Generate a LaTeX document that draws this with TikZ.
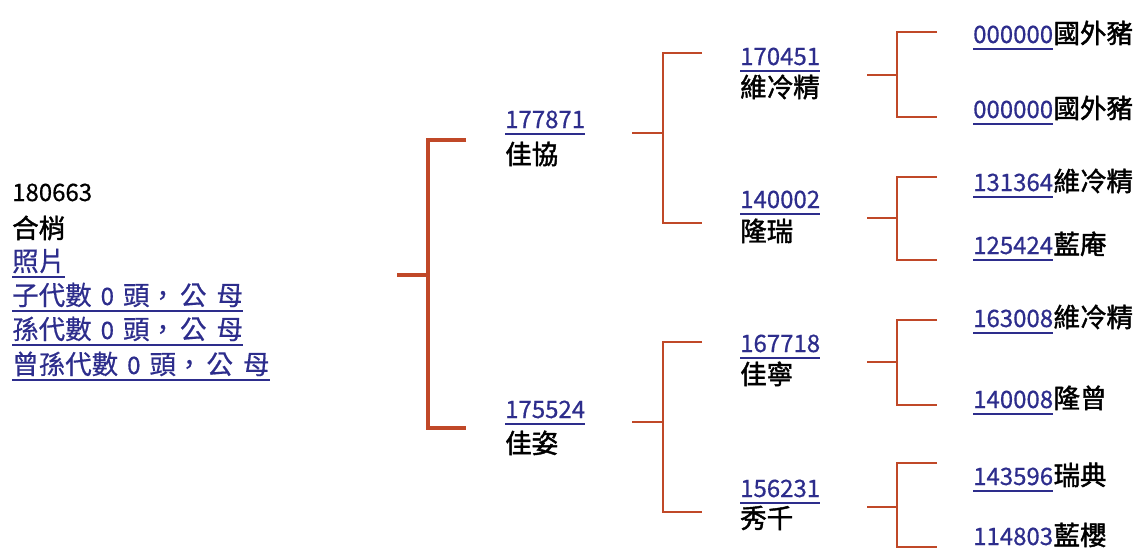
\documentclass[tikz,border=0pt]{standalone}
\usepackage{fontspec}
\setmainfont{Noto Sans CJK TC}
\newfontfamily\heavycjk[FakeBold=1.6]{Noto Sans CJK TC}
\newfontfamily\midcjk[FakeBold=0.6]{Noto Sans CJK TC}
\usetikzlibrary{calc}
\definecolor{linkblue}{RGB}{45,45,140}
\definecolor{brk}{RGB}{192,72,40}
\newcommand\dtxt[1]{{\fontsize{24}{26}\selectfont #1}}
\newcommand\ulnode[1]{\draw[ulline] ([yshift=-6pt]#1.base west) -- ([yshift=-6pt]#1.base east);}
% #1 name, #2 stub x0, #3 vertical x, #4 arm x, #5 stub y, #6 top y, #7 bottom y, #8 style
\newcommand\treebr[8]{%
  \coordinate (#1s) at (#2,#5); \coordinate (#1j) at (#3,#5);
  \coordinate (#1t) at (#3,#6); \coordinate (#1te) at (#4,#6);
  \coordinate (#1b) at (#3,#7); \coordinate (#1be) at (#4,#7);
  \draw[#8] (#1s) -- (#1j);
  \draw[#8] (#1te) -- (#1t) -- (#1b) -- (#1be);}
\begin{document}
\begin{tikzpicture}[x=1pt,y=-1pt,
  txt/.style={inner sep=0pt, anchor=base west, text=black, font=\heavycjk\fontsize{26.5}{28}\selectfont},
  link/.style={txt, text=linkblue, font=\midcjk\fontsize{26.5}{28}\selectfont},
  num/.style={txt, text=linkblue, font=\midcjk\fontsize{24}{26}\selectfont},
  ulline/.style={draw=linkblue, line width=1.8pt},
  brone/.style={draw=brk, line width=3.6pt, line join=miter},
  brtwo/.style={draw=brk, line width=2.3pt, line join=miter}]
\useasboundingbox (0,0) rectangle (1144,549);

% root
\node[num, text=black] (r1) at (12,201) {180663};
\node[txt] (r2) at (12,238) {合梢};
\node[link] (r3) at (12,271) {照片}; \ulnode{r3}
\node[link] (r4) at (12,305) {子代數\hspace{9pt}\dtxt{0}\hspace{9pt}頭，\hspace{4pt}公\hspace{10pt}母}; \ulnode{r4}
\node[link] (r5) at (12,339) {孫代數\hspace{9pt}\dtxt{0}\hspace{9pt}頭，\hspace{4pt}公\hspace{10pt}母}; \ulnode{r5}
\node[link] (r6) at (12,374) {曾孫代數\hspace{9pt}\dtxt{0}\hspace{9pt}頭，\hspace{4pt}公\hspace{10pt}母}; \ulnode{r6}

% level 1 bracket
\treebr{A}{397}{428}{466}{275}{140}{428}{brone}

% level 2
\node[num] (p1) at (505,128) {177871}; \ulnode{p1}
\node[txt] (p1n) at (505,164) {佳協};
\node[num] (p2) at (505,418) {175524}; \ulnode{p2}
\node[txt] (p2n) at (505,453) {佳姿};

\treebr{B}{632}{663}{702}{133}{53}{223}{brtwo}
\treebr{C}{632}{663}{702}{422}{342}{512}{brtwo}

% level 3
\node[num] (q1) at (740,65) {170451}; \ulnode{q1}
\node[txt] (q1n) at (740,97) {維冷精};
\node[num] (q2) at (740,208) {140002}; \ulnode{q2}
\node[txt] (q2n) at (740,241) {隆瑞};
\node[num] (q3) at (740,352) {167718}; \ulnode{q3}
\node[txt] (q3n) at (740,384) {佳寧};
\node[num] (q4) at (740,497) {156231}; \ulnode{q4}
\node[txt] (q4n) at (740,528) {秀千};

\treebr{D}{867}{897}{937}{75}{32}{117}{brtwo}
\treebr{E}{867}{897}{937}{218}{177}{260}{brtwo}
\treebr{F}{867}{897}{937}{362}{320}{405}{brtwo}
\treebr{G}{867}{897}{937}{507}{463}{547}{brtwo}

% level 4
\node[num] (s1) at (973,43) {000000}; \ulnode{s1}
\node[txt] (s1n) at (s1.base east) {國外豬};
\node[num] (s2) at (973,118) {000000}; \ulnode{s2}
\node[txt] (s2n) at (s2.base east) {國外豬};
\node[num] (s3) at (973,191) {131364}; \ulnode{s3}
\node[txt] (s3n) at (s3.base east) {維冷精};
\node[num] (s4) at (973,254) {125424}; \ulnode{s4}
\node[txt] (s4n) at (s4.base east) {藍庵};
\node[num] (s5) at (973,327) {163008}; \ulnode{s5}
\node[txt] (s5n) at (s5.base east) {維冷精};
\node[num] (s6) at (973,408) {140008}; \ulnode{s6}
\node[txt] (s6n) at (s6.base east) {隆曾};
\node[num] (s7) at (973,485) {143596}; \ulnode{s7}
\node[txt] (s7n) at (s7.base east) {瑞典};
\node[num] (s8) at (973,545) {114803};
\node[txt] (s8n) at (s8.base east) {藍櫻};
\end{tikzpicture}
\end{document}
